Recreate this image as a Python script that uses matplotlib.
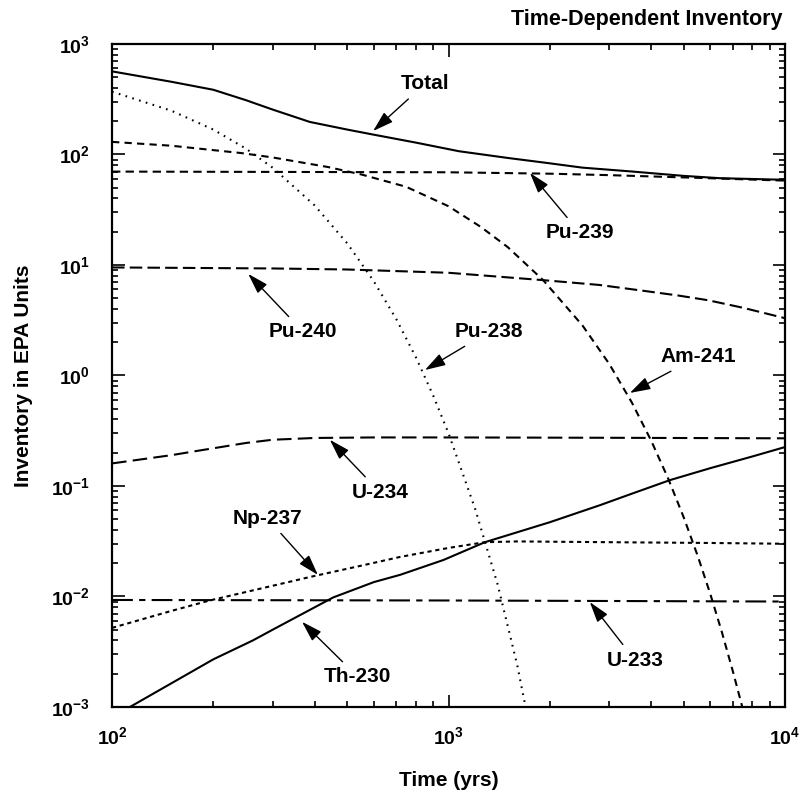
import numpy as np
import matplotlib.pyplot as plt
from matplotlib.ticker import NullFormatter, FixedLocator, LogFormatterSciNotation

plt.rcParams['font.family'] = ['Liberation Sans', 'DejaVu Sans']
plt.rcParams['font.weight'] = 'bold'
plt.rcParams['mathtext.fontset'] = 'custom'
plt.rcParams['mathtext.rm'] = 'Liberation Sans:bold'
plt.rcParams['mathtext.it'] = 'Liberation Sans:bold'
plt.rcParams['mathtext.bf'] = 'Liberation Sans:bold'
plt.rcParams['mathtext.default'] = 'bf'

# values (time in years, inventory in EPA units)
t_total = [100, 150, 200, 250, 300, 387, 500, 593, 800, 1074, 1500, 1950, 2500, 3530, 5000, 6410, 10000]
v_total = [565, 455, 385, 310, 255, 197, 168, 152, 128, 107, 93, 84, 76, 70, 64, 61, 59]

t_pu239 = [100, 1000, 2000, 3000, 5000, 7000, 10000]
v_pu239 = [70, 69, 67, 65, 62, 60, 58]

t_pu240 = [100, 300, 500, 1000, 1900, 2800, 3700, 4800, 5900, 7500, 10000]
v_pu240 = [9.5, 9.3, 9.1, 8.5, 7.3, 6.6, 5.9, 5.3, 4.8, 4.1, 3.3]

t_pu238 = [100, 150, 200, 250, 300, 400, 500, 600, 700, 800, 900, 1000, 1200, 1400, 1600, 1700]
v_pu238 = [370, 249, 168, 113, 76, 34.6, 15.7, 7.1, 3.22, 1.46, 0.66, 0.30, 0.062, 0.0128, 0.0024, 0.00095]

t_am241 = [100, 150, 242, 300, 438, 550, 748, 1000, 1250, 1500, 1910, 2500, 3000, 3500,
           4000, 4500, 5000, 5500, 6000, 6500, 7000, 7500]
v_am241 = [130, 120, 103, 94, 77, 66, 51, 34, 22, 14.5, 7.3, 2.84, 1.28, 0.575,
           0.258, 0.116, 0.052, 0.0234, 0.0105, 0.0047, 0.0021, 0.00095]

t_u234 = [100, 150, 183, 250, 300, 400, 600, 1000, 3000, 10000]
v_u234 = [0.16, 0.19, 0.21, 0.245, 0.262, 0.272, 0.275, 0.275, 0.273, 0.27]

t_np237 = [100, 150, 195, 300, 387, 550, 718, 1000, 1283, 1600, 3000, 6000, 10000]
v_np237 = [0.0052, 0.0074, 0.0092, 0.0125, 0.015, 0.019, 0.0228, 0.0275, 0.031, 0.0315, 0.031, 0.0305, 0.030]

t_th230 = [100, 113, 200, 262, 300, 454, 600, 718, 966, 1283, 2000, 2818, 3500, 4550, 6000, 8000, 10000]
v_th230 = [0.00082, 0.001, 0.0027, 0.004, 0.0050, 0.0098, 0.0135, 0.0157, 0.0214, 0.031,
           0.047, 0.067, 0.085, 0.113, 0.145, 0.185, 0.225]

t_u233 = [100, 1000, 10000]
v_u233 = [0.0093, 0.0092, 0.0090]

x_ticks = [1e2, 1e3, 1e4]
y_ticks = [1e-3, 1e-2, 1e-1, 1e0, 1e1, 1e2, 1e3]

fig = plt.figure(figsize=(8.02, 7.95), dpi=100)
ax = fig.add_axes([0.1397, 0.1107, 0.8391, 0.834])

lw = 1.5
ax.plot(t_total, v_total, color='k', lw=lw)
ax.plot(t_pu239, v_pu239, color='k', lw=lw, dashes=(4, 2.5))
ax.plot(t_pu240, v_pu240, color='k', lw=lw, dashes=(6, 2.5))
ax.plot(t_pu238, v_pu238, color='k', lw=lw, dashes=(0.8, 2.6))
ax.plot(t_am241, v_am241, color='k', lw=lw, dashes=(3.5, 2.5))
ax.plot(t_u234, v_u234, color='k', lw=lw, dashes=(7, 3))
ax.plot(t_np237, v_np237, color='k', lw=lw, dashes=(2, 1.8))
ax.plot(t_th230, v_th230, color='k', lw=lw)
ax.plot(t_u233, v_u233, color='k', lw=lw, dashes=(10, 3, 3, 3))

ax.set_xscale('log')
ax.set_yscale('log')
ax.set_xlim(1e2, 1e4)
ax.set_ylim(1e-3, 1e3)
# only the decades inside the frame get labels
ax.xaxis.set_major_locator(FixedLocator(x_ticks))
ax.yaxis.set_major_locator(FixedLocator(y_ticks))
ax.xaxis.set_major_formatter(LogFormatterSciNotation())
ax.yaxis.set_major_formatter(LogFormatterSciNotation())
ax.xaxis.set_minor_formatter(NullFormatter())
ax.yaxis.set_minor_formatter(NullFormatter())

# labels with arrows: (text, arrow tip, text centre)
notes = [
    ('Total', (597, 163), (851, 435)),
    ('Pu-239', (1746, 68), (2459, 19.5)),
    ('Pu-240', (254, 8.3), (370, 2.48)),
    ('Pu-238', (851, 1.12), (1318, 2.48)),
    ('Am-241', (3459, 0.695), (5508, 1.47)),
    ('U-234', (444, 0.262), (625, 0.088)),
    ('Np-237', (409, 0.0157), (289, 0.0513)),
    ('Th-230', (367, 0.0059), (538, 0.00187)),
    ('U-233', (2630, 0.0089), (3581, 0.00266)),
]
for txt, tip, pos in notes:
    ax.annotate(txt, xy=tip, xytext=pos, ha='center', va='center', fontsize=15,
                fontweight='bold',
                arrowprops=dict(arrowstyle='-|>,head_length=0.9,head_width=0.28',
                                mutation_scale=14, color='k', lw=1,
                                shrinkA=3, shrinkB=0))

ax.tick_params(which='both', direction='in', top=True, right=True, width=1.2)
ax.tick_params(which='major', length=9, labelsize=14)
ax.tick_params(which='minor', length=4.5)
ax.tick_params(axis='y', pad=16)
ax.tick_params(axis='x', pad=14)
for s in ax.spines.values():
    s.set_linewidth(1.6)

ax.set_xlabel('Time (yrs)', fontsize=15, fontweight='bold', labelpad=16)
ax.set_ylabel('Inventory in EPA Units', fontsize=15, fontweight='bold', labelpad=13)
fig.text(0.976, 0.975, 'Time-Dependent Inventory', ha='right', va='center',
         fontsize=15.5, fontweight='bold')

fig.savefig('out.png', dpi=100)
